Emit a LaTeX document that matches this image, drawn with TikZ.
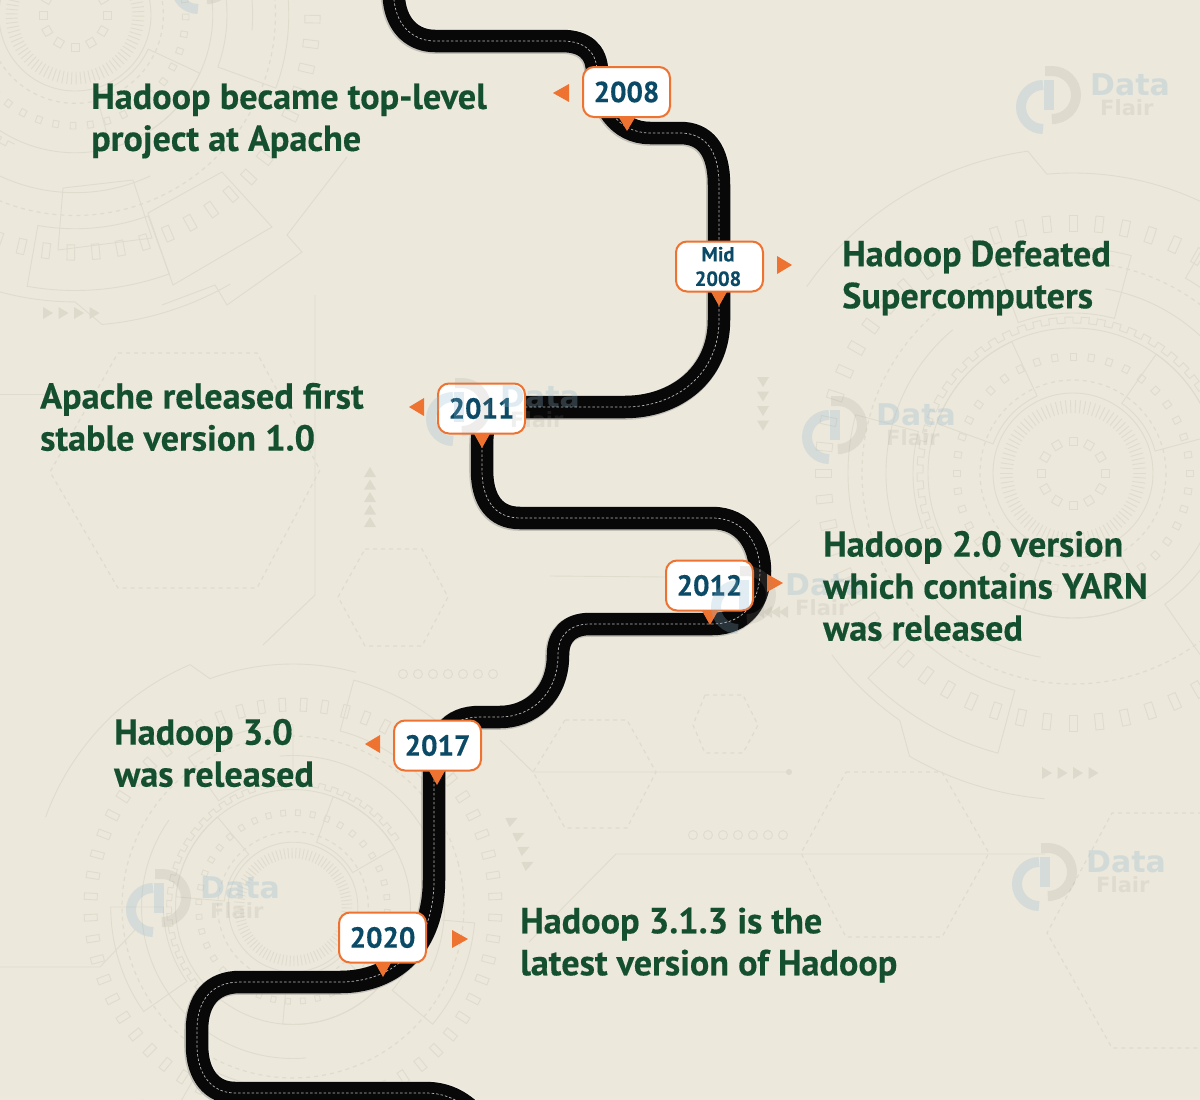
\documentclass[tikz,border=0pt]{standalone}
\usepackage{fontspec}
\setmainfont{PT Sans}[BoldFeatures={FakeBold=0.35}]
\newfontfamily\logofont{DejaVu Sans}
\usetikzlibrary{calc}
\definecolor{bgc}{HTML}{ECE8DC}
\definecolor{deco}{HTML}{DFDCCE}
\definecolor{decofill}{HTML}{DDDACC}
\definecolor{orangec}{HTML}{EE7230}
\definecolor{greenc}{HTML}{14502F}
\definecolor{yearc}{HTML}{0B4A66}
\definecolor{logoblue}{HTML}{8FB8D0}
\definecolor{logogrey}{HTML}{9A9488}
\tikzset{
  decoline/.style={draw=deco,line width=0.9pt},
  decodash/.style={draw=deco,line width=1.2pt,dash pattern=on 4pt off 4pt},
  decotri/.style={fill=decofill,draw=none},
  yearbox/.style={draw=orangec,line width=2pt,fill=white,rounded corners=11pt,
    minimum width=87pt,minimum height=50pt,inner sep=0pt,text=yearc,align=center,
    font=\bfseries\fontsize{29}{29}\selectfont},
  midbox/.style={yearbox,font=\bfseries\fontsize{20.5}{24.5}\selectfont},
  eventtext/.style={text=greenc,anchor=west,align=left,inner sep=0pt,
    font=\bfseries\fontsize{36.2}{42}\selectfont},
  pointer/.style={fill=orangec,draw=none},
}
\newcommand\roadpath{(394,-10) -- (394,0) .. controls (397,28) and (415,41) .. (435,41) -- (562,41)
  .. controls (585,41) and (596,52) .. (597,70) .. controls (600,105) and (618,133) .. (650,133)
  -- (680,133) .. controls (705,133) and (719,150) .. (719,185) -- (719,320)
  .. controls (719,375) and (675,407) .. (625,407) -- (510,407)
  .. controls (490,407) and (482,420) .. (482,445) -- (482,470)
  .. controls (482,500) and (495,518) .. (520,518) -- (712,518)
  .. controls (745,518) and (760,545) .. (760,571) .. controls (760,600) and (745,624) .. (712,624)
  -- (590,624) .. controls (570,624) and (558,635) .. (558,655)
  .. controls (558,695) and (530,717) .. (500,717) -- (480,717)
  .. controls (450,717) and (434,735) .. (434,780) -- (434,880)
  .. controls (434,945) and (395,982) .. (340,982) -- (240,982)
  .. controls (212,982) and (197,1000) .. (197,1030) -- (197,1045)
  .. controls (197,1075) and (212,1093) .. (235,1093) -- (425,1093)
  .. controls (445,1093) and (460,1100) .. (475,1115)}
% sector panel: a1 a2 r1 r2
\newcommand\sectorp[4]{\draw[decoline] (#1:#3) arc[start angle=#1,end angle=#2,radius=#3] -- (#2:#4) arc[start angle=#2,end angle=#1,radius=#4] -- cycle;}
% gear: cx cy scale rotation
\newcommand\techgear[4]{%
\begin{scope}[shift={(#1,#2)},scale=#3,rotate=#4]
  \foreach \a in {0,4,...,356}{\draw[decoline] (\a:60) -- (\a:73);}
  \draw[decoline] (0,0) circle[radius=80];
  \draw[decodash] (0,0) circle[radius=93];
  \foreach \a in {0,9,...,351}{\draw[decoline,rotate=\a] (113,-3) rectangle (120,3);}
  \draw[decoline] (0,0) circle[radius=145];
  \foreach \a in {150,156,...,340}{\draw[decoline] (\a:150) -- (\a+3:150) -- (\a+3:156) -- (\a+6:156) -- (\a+6:150);}
  \draw[decoline] (100:187) arc[start angle=100,end angle=230,radius=187];
  \draw[decoline] (280:187) arc[start angle=280,end angle=400,radius=187];
  \draw[decodash] (0,0) circle[radius=211];
  \foreach \a in {0,6,...,354}{\draw[decoline,rotate=\a] (242,-4) rectangle (258,4);}
  \sectorp{200}{245}{85}{145}
  \sectorp{305}{345}{85}{145}
  \sectorp{60}{110}{85}{145}
  \sectorp{20}{55}{160}{225}
  \sectorp{160}{195}{160}{225}
  \sectorp{250}{285}{160}{225}
  \sectorp{105}{135}{225}{290}
  \sectorp{300}{335}{225}{290}
  \draw[decoline] (143:302) arc[start angle=143,end angle=125,radius=302] -- (120:327) arc[start angle=120,end angle=95,radius=327];
  \draw[decoline] (215:325) arc[start angle=215,end angle=262,radius=325] -- (265:300) arc[start angle=265,end angle=300,radius=300];
\end{scope}}
\newcommand\innersq[3]{%
\begin{scope}[shift={(#1,#2)},scale=#3]
  \foreach \a in {0,30,...,330}{\draw[decoline,rotate=\a] (28,-4) rectangle (36,4);}
\end{scope}}
% logo, offset from the one at top right
\newcommand\dflogo[2]{%
\begin{scope}[shift={(#1,#2)}]
  \draw[logoblue,opacity=.25,line width=10pt] (1043,85) arc[start angle=270,end angle=90,radius=22];
  \fill[logoblue,opacity=.25] (1044,80) rectangle (1054,110);
  \draw[logogrey,opacity=.16,line width=10pt] (1045,71) -- (1052,71) arc[start angle=-90,end angle=90,radius=24] -- (1056,119);
  \node[logoblue,opacity=.28,font=\logofont\bfseries\fontsize{30}{30}\selectfont,anchor=base west,inner sep=0pt] at (1090,95) {Data};
  \node[logogrey,opacity=.15,font=\logofont\bfseries\fontsize{21}{21}\selectfont,anchor=base west,inner sep=0pt] at (1100,115) {Flair};
\end{scope}}
\begin{document}
\begin{tikzpicture}[x=1pt,y=-1pt]
\useasboundingbox (0,0) rectangle (1200,1100);
\begin{scope}
\clip (0,0) rectangle (1200,1100);
\fill[bgc] (0,0) rectangle (1200,1100);
% background art
\techgear{1073}{473}{1}{0}
\innersq{1073}{473}{1}
\techgear{75}{15}{0.95}{35}
\innersq{75}{15}{1}
\techgear{293}{907}{0.81}{15}
% panels of the upper left art
\draw[decoline] (148,213) -- (222,172) -- (272,227) -- (173,285) -- cycle;
\draw[decoline] (162,305) -- (215,285) -- (227,305) -- (302,252) -- (287,235) -- (347,157);
\draw[decoline] (58,250) -- (152,238) -- (133,180) -- (63,188) -- cycle;
% hexagons
\draw[decodash] (118,353) -- (257,353) -- (320,470) -- (257,588) -- (118,588) -- (50,472) -- cycle;
\draw[decodash] (365,549) -- (422,549) -- (448,597) -- (422,646) -- (365,646) -- (338,597) -- cycle;
\draw[decodash] (565,720) -- (627,720) -- (656,772) -- (627,828) -- (565,828) -- (533,772) -- cycle;
\draw[decodash] (705,695) -- (743,695) -- (758,725) -- (743,753) -- (705,753) -- (693,725) -- cycle;
\draw[decodash] (846,772) -- (942,772) -- (989,853) -- (942,937) -- (846,937) -- (801,853) -- cycle;
\draw[decodash] (1210,813) -- (1112,813) -- (1047,933) -- (1112,1048) -- (1210,1048);
% thin lines
\draw[decoline] (500,740) -- (533,772) -- (789,772);
\fill[decofill] (789,772) circle[radius=3];
\draw[decoline] (529,942) -- (616,854) -- (1045,854);
\draw[decoline] (315,295) -- (315,595) -- (263,645);
\draw[decoline] (0,394) -- (50,394);
\draw[decoline] (0,967) -- (100,967) -- (135,930);
\draw[decoline] (550,576) -- (665,577);
\draw[decoline] (768,547) -- (800,520);
% circle rows
\foreach \i in {0,...,6}{\draw[decoline] ({693+15*\i},835) circle[radius=4.5];\draw[decoline] ({403+15*\i},674) circle[radius=4.5];}
% triangle rows
\foreach \i in {0,1,2,3}{\fill[decotri] ({1042+15.5*\i},767) -- ++(10,6) -- ++(-10,6) -- cycle;
  \fill[decotri] ({43+15.5*\i},307) -- ++(10,6) -- ++(-10,6) -- cycle;
  \fill[decotri] (757,{377+14.5*\i}) -- ++(12,0) -- ++(-6,10) -- cycle;
  \fill[decotri] ({772+8*\i-8},606) -- ++(0,12) -- ++(-9,-6) -- cycle;}
\foreach \i in {0,1,2,3,4}{\fill[decotri] (364,{477+12.5*\i}) -- ++(12,0) -- ++(-6,-10) -- cycle;}
\foreach \p in {(513,820),(520,835),(525,849),(529,864)}{\fill[decotri,shift={\p},rotate=25] (-6,-5) -- (-6,5) -- (5,0) -- cycle;}
% logos under the road
\dflogo{0}{0}
\dflogo{-214}{330}
\dflogo{-4}{777}
\dflogo{-890}{803}
\dflogo{-845}{-120}
% road
\draw[draw=white,opacity=.3,line width=24.5pt] \roadpath;
\draw[draw=black!35!bgc,opacity=.5,line width=24pt,shift={(-0.8,0.8)}] \roadpath;
\draw[draw=black!97,line width=22.5pt] \roadpath;
\draw[draw=white!72!black,line width=0.7pt,dash pattern=on 2.5pt off 2pt] \roadpath;
% pointers below boxes and side arrows
\fill[pointer] (618,116) -- (636,116) -- (627,131) -- cycle;
\fill[pointer] (710,290) -- (728,290) -- (719,306) -- cycle;
\fill[pointer] (473,432) -- (491,432) -- (482,448) -- cycle;
\fill[pointer] (701,609) -- (719,609) -- (710,625) -- cycle;
\fill[pointer] (428,769) -- (446,769) -- (437,785) -- cycle;
\fill[pointer] (374,961) -- (392,961) -- (383,977) -- cycle;
\fill[pointer] (553,93) -- (569,84) -- (569,102) -- cycle;
\fill[pointer] (792,265) -- (777,256) -- (777,274) -- cycle;
\fill[pointer] (409,407) -- (424,398) -- (424,416) -- cycle;
\fill[pointer] (783,583) -- (767,574) -- (767,592) -- cycle;
\fill[pointer] (365,744) -- (380,735) -- (380,753) -- cycle;
\fill[pointer] (468,939) -- (452,930) -- (452,948) -- cycle;
% year boxes
\node[yearbox] (y2008) at (626.5,92) {\raisebox{-1.5pt}{2008}};
\node[midbox] (ymid) at (719.5,266.5) {\hspace*{-3pt}\raisebox{-2pt}{Mid}\\\hspace*{-3pt}\raisebox{-2pt}{2008}};
\node[yearbox] (y2011) at (481.5,408.5) {\raisebox{-1.5pt}{2011}};
\node[yearbox] (y2012) at (709.5,585.5) {\raisebox{-1.5pt}{2012}};
\node[yearbox] (y2017) at (437.5,745.5) {\raisebox{-1.5pt}{2017}};
\node[yearbox] (y2020) at (382.5,937.5) {\raisebox{-1.5pt}{2020}};
% logos that lie over the road and boxes
\dflogo{-590}{312}
\dflogo{-305}{500}
% events
\node[eventtext] (e2008) at (91,121) {Hadoop became top-level\\project at Apache};
\node[eventtext] (emid) at (842,278) {Hadoop Defeated\\Supercomputers};
\node[eventtext] (e2011) at (40,417) {Apache released first\\stable version 1.0};
\node[eventtext] (e2012) at (823,586) {Hadoop 2.0 version\\which contains YARN\\was released};
\node[eventtext] (e2017) at (114,753) {Hadoop 3.0\\was released};
\node[eventtext] (e2020) at (520,945) {Hadoop 3.1.3 is the\\latest version of Hadoop};
\end{scope}
\end{tikzpicture}
\end{document}
